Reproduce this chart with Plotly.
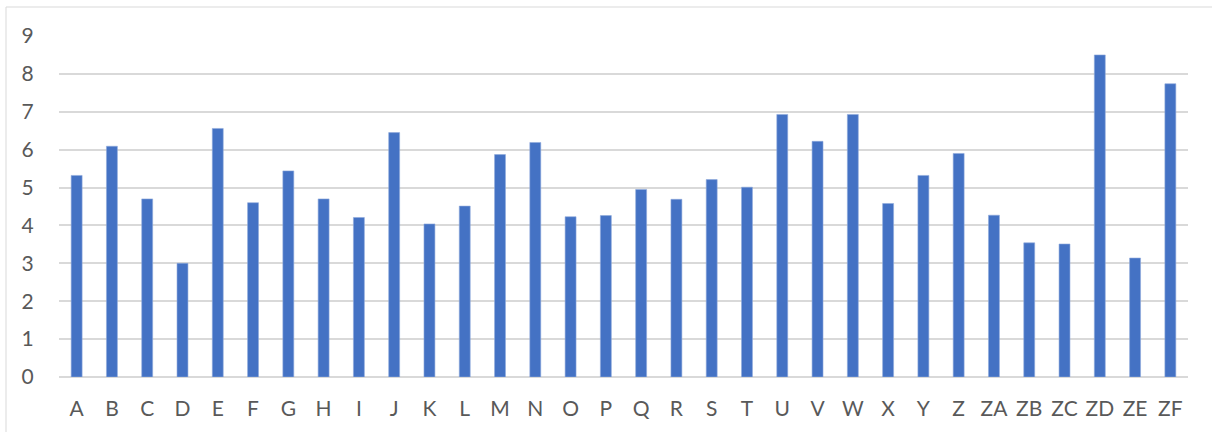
import plotly.graph_objects as go

categories = ["A", "B", "C", "D", "E", "F", "G", "H", "I", "J", "K", "L", "M", "N", "O", "P",
              "Q", "R", "S", "T", "U", "V", "W", "X", "Y", "Z", "ZA", "ZB", "ZC", "ZD", "ZE", "ZF"]
values = [5.32, 6.09, 4.70, 3.00, 6.56, 4.60, 5.44, 4.70, 4.21, 6.45, 4.04, 4.51, 5.87, 6.19, 4.23, 4.26,
          4.95, 4.69, 5.21, 5.01, 6.93, 6.22, 6.93, 4.58, 5.32, 5.90, 4.27, 3.54, 3.51, 8.50, 3.14, 7.74]
y_ticks = [0, 1, 2, 3, 4, 5, 6, 7, 8, 9]

W, H = 1212, 432
L, R, T, B = 59, 24, 36, 55
pw, ph = W - L - R, H - T - B

fig = go.Figure(go.Bar(
    x=categories, y=values,
    marker=dict(color="#4472C4", line=dict(color="#8FAADC", width=0.6)),
))

fig.update_layout(
    width=W, height=H,
    margin=dict(l=L, r=R, t=T, b=B),
    paper_bgcolor="white", plot_bgcolor="white",
    bargap=0.69,
    showlegend=False,
    font=dict(family="Lato, 'Open Sans', sans-serif", size=21, color="#595959"),
    xaxis=dict(showgrid=False, showline=False, ticks="outside", ticklen=13,
               tickcolor="rgba(0,0,0,0)", tickfont=dict(size=21, color="#595959")),
    yaxis=dict(range=[0, 9], tickvals=y_ticks, showgrid=True, gridcolor="#D9D9D9", gridwidth=1.5,
               zeroline=True, zerolinecolor="#D9D9D9", zerolinewidth=1.5,
               ticks="outside", ticklen=20, tickcolor="rgba(0,0,0,0)",
               tickfont=dict(size=21, color="#595959")),
    shapes=[dict(type="rect", xref="paper", yref="paper",
                 x0=(6 - L) / pw, x1=1.2, y0=-0.5, y1=(H - B - 7) / ph,
                 line=dict(color="#D9D9D9", width=1), layer="below")],
)

fig.write_html("out.html", config={"displayModeBar": False},
               post_script="document.body.style.margin='0';document.body.style.overflow='hidden';")
